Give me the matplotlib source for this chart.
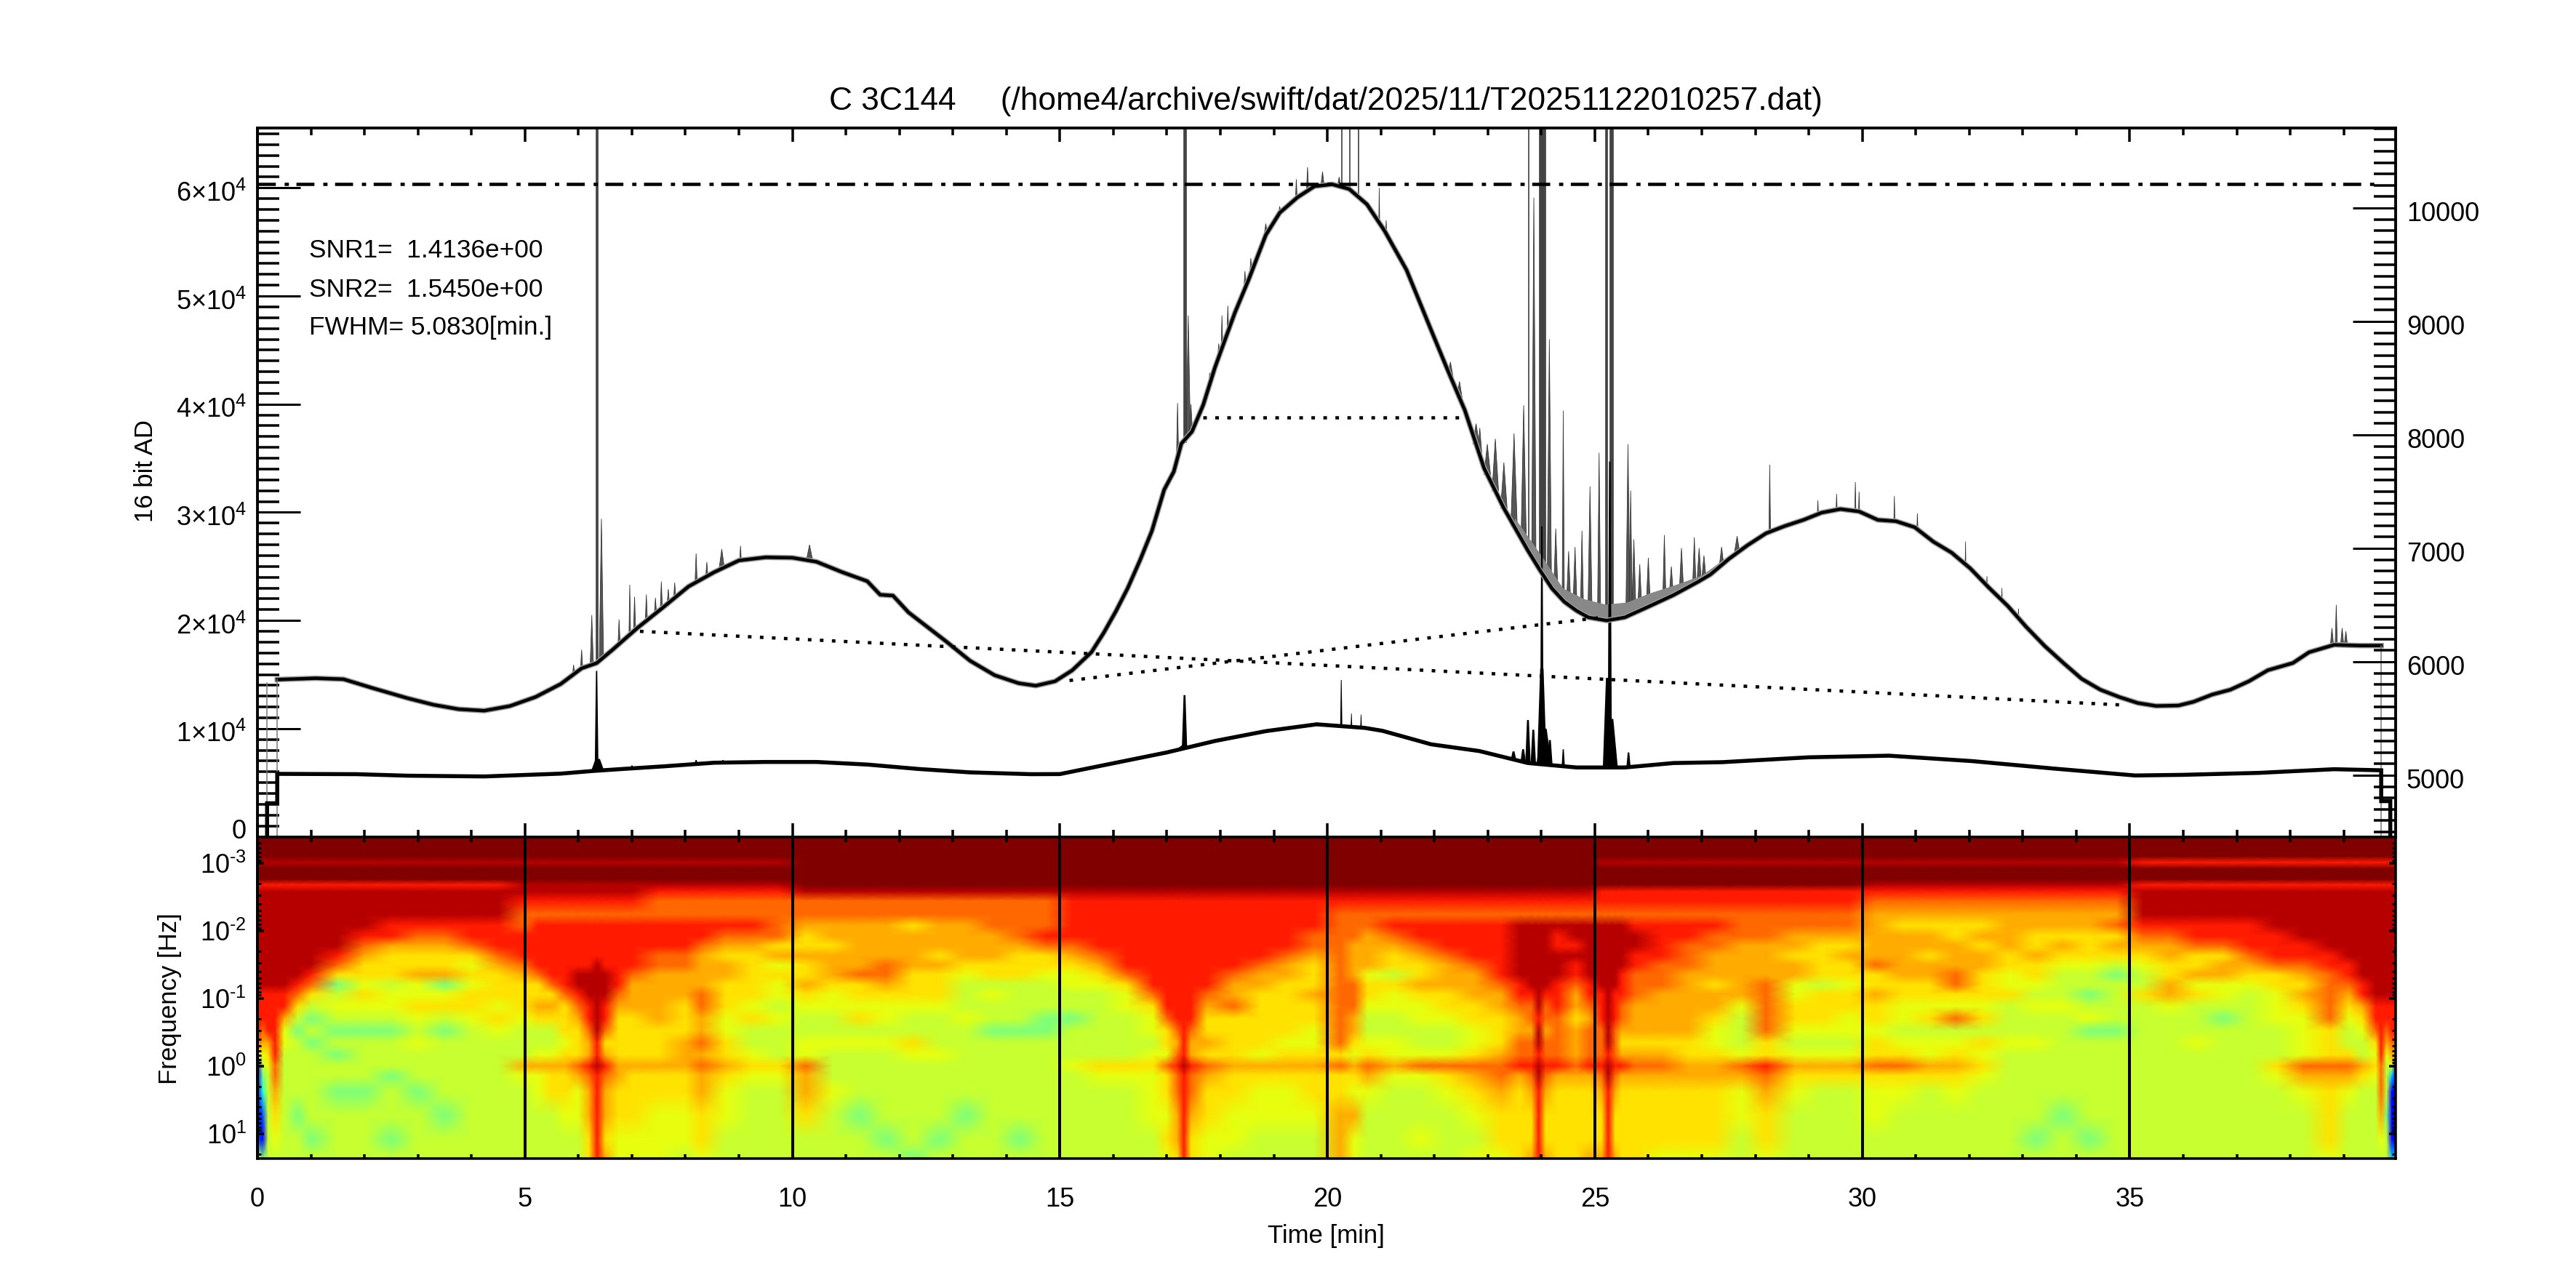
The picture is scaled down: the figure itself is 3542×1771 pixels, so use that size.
import matplotlib
matplotlib.use('Agg')
import matplotlib.pyplot as plt
from matplotlib.ticker import MultipleLocator, FixedLocator, FixedFormatter, NullFormatter
from matplotlib.transforms import ScaledTranslation
import numpy as np

plt.rcParams['font.family'] = ['Liberation Sans', 'DejaVu Sans']
plt.rcParams['mathtext.fontset'] = 'custom'
plt.rcParams['mathtext.rm'] = 'Liberation Sans'
plt.rcParams['mathtext.default'] = 'rm'

W, H, DPI = 3542, 1771, 200
PX = 72 / DPI

title = 'C 3C144     (/home4/archive/swift/dat/2025/11/T20251122010257.dat)'
info_lines = ['SNR1=  1.4136e+00', 'SNR2=  1.5450e+00', 'FWHM= 5.0830[min.]']

# smoothed total power, time [min] / AD counts in units of 1e4
up_t = [0.37, 1.09, 1.61, 2.14, 2.81, 3.29, 3.76, 4.24, 4.72, 5.2, 5.67, 6.06, 6.34, 6.63, 7.1, 7.58, 8.06, 8.54,
        9.0, 9.5, 10, 10.45, 10.93, 11.4, 11.64, 11.88, 12.17, 12.87, 13.32, 13.78, 14.23, 14.55, 14.91, 15.23,
        15.59, 15.82, 16.05, 16.27, 16.5, 16.72, 16.95, 17.13, 17.27, 17.47, 17.68, 17.9, 18.27, 18.53, 18.85,
        19.11, 19.44, 19.76, 20.09, 20.41, 20.74, 21.07, 21.48, 21.94, 22.25, 22.57, 22.93, 23.3, 23.75, 23.98,
        24.2, 24.43, 24.66, 24.88, 25.22, 25.56, 26.02, 26.47, 26.93, 27.16, 27.51, 27.85, 28.2, 28.55, 28.9,
        29.24, 29.59, 29.94, 30.29, 30.63, 30.98, 31.33, 31.67, 32.02, 32.37, 32.72, 33.06, 33.41, 33.76, 34.1,
        34.45, 34.8, 35.15, 35.49, 35.91, 36.19, 36.54, 36.88, 37.23, 37.58, 38.05, 38.35, 38.82, 39.3, 39.7]
up_v = [1.454, 1.466, 1.457, 1.377, 1.281, 1.221, 1.18, 1.166, 1.209, 1.293, 1.413, 1.558, 1.606, 1.726, 1.93, 2.12,
        2.315, 2.447, 2.555, 2.584, 2.58, 2.543, 2.447, 2.363, 2.238, 2.23, 2.075, 1.808, 1.628, 1.494, 1.42,
        1.397, 1.438, 1.539, 1.707, 1.886, 2.088, 2.301, 2.559, 2.828, 3.209, 3.377, 3.635, 3.747, 3.994, 4.341,
        4.844, 5.153, 5.565, 5.77, 5.912, 6.015, 6.033, 5.989, 5.848, 5.603, 5.241, 4.685, 4.314, 3.944, 3.408,
        3.038, 2.646, 2.461, 2.296, 2.173, 2.09, 2.029, 2.0, 2.029, 2.132, 2.235, 2.358, 2.425, 2.571, 2.694,
        2.806, 2.873, 2.93, 2.997, 3.03, 3.008, 2.93, 2.918, 2.862, 2.728, 2.627, 2.481, 2.302, 2.134, 1.943,
        1.764, 1.607, 1.461, 1.36, 1.293, 1.237, 1.21, 1.214, 1.248, 1.315, 1.36, 1.439, 1.54, 1.607, 1.706,
        1.775, 1.768, 1.768]

# upper edge of the dense spiking after 23.5 min
fringe_t = [23.5, 24.0, 24.4, 24.8, 25.2, 25.6, 26.0, 26.5, 27.0, 27.5]
fringe_v = [2.95, 2.6, 2.3, 2.2, 2.15, 2.17, 2.25, 2.33, 2.42, 2.6]

# second channel
low_t = [0.18, 0.18, 0.37, 0.37, 1.85, 2.81, 4.24, 5.67, 6.25, 6.82, 7.58, 8.54, 9.5, 10.45, 11.4, 12.36, 13.31, 14.46,
         15, 16.1, 17, 17.9, 18.85, 19.8, 20.7, 21.03, 21.94, 22.84, 23.75, 24.66, 25.56, 26.47, 27.38, 29, 30.5,
         32.05, 33.6, 35.1, 36.0, 37.41, 38.82, 39.7, 39.7, 39.87, 39.87]
low_v = [0, 0.31, 0.31, 0.582, 0.579, 0.565, 0.558, 0.584, 0.608, 0.627, 0.651, 0.685, 0.692, 0.692, 0.668, 0.627, 0.596,
         0.579, 0.58, 0.69, 0.78, 0.886, 0.977, 1.04, 1.007, 0.98, 0.855, 0.793, 0.682, 0.641, 0.641, 0.682, 0.69,
         0.735, 0.75, 0.70, 0.63, 0.567, 0.573, 0.591, 0.625, 0.615, 0.33, 0.33, 0]

# spikes on the raw trace: time, peak (1e4), half width [min]
spike_t = [5.91, 6.06, 6.25, 6.43, 6.76, 6.96, 7.05, 7.27, 7.44, 7.55, 7.68, 7.8, 8.2, 8.4, 8.68, 9.03, 10.32,
           17.2, 17.4, 17.45, 17.8, 17.97, 18.03, 18.14, 18.46, 18.57, 18.85, 19.11, 19.42, 19.63, 19.91, 20.22,
           20.97, 21.1, 22.3, 22.47, 22.78, 22.85, 22.99, 23.14, 23.3, 23.49, 23.67, 23.86, 24.15, 24.27, 24.41,
           24.51, 24.63, 24.76, 24.91, 25.08, 25.62, 25.67, 25.73, 25.84, 26.0, 26.3, 26.43, 26.62, 26.86, 26.95,
           27.04, 27.37, 27.66, 28.27, 29.17, 29.52, 29.87, 29.94, 30.6, 31.03, 31.93, 32.33, 32.61, 32.92,
           38.78, 38.86, 38.97, 39.04]
spike_v = [1.59, 1.73, 2.05, 2.94, 2.01, 2.33, 2.22, 2.24, 2.21, 2.36, 2.29, 2.35, 2.62, 2.54, 2.66, 2.69, 2.70,
           4.01, 4.82, 4.0, 4.29, 4.56, 4.82, 4.91, 5.23, 5.35, 5.67, 5.83, 6.08, 6.19, 6.15, 6.10,
           6.0, 5.7, 4.39, 4.21, 3.82, 3.78, 3.63, 3.68, 3.46, 3.73, 3.99, 5.91, 4.6, 2.85, 3.94,
           2.64, 2.68, 2.83, 3.24, 3.55, 3.63, 3.2, 2.75, 2.52, 2.58, 2.79, 2.5, 2.67, 2.77, 2.67,
           2.6, 2.68, 2.78, 3.44, 3.11, 3.17, 3.28, 3.19, 3.15, 2.99, 2.73, 2.41, 2.30, 2.11,
           1.93, 2.145, 1.93, 1.9]
spike_w = [0.02, 0.02, 0.03, 0.04, 0.02, 0.015, 0.02, 0.02, 0.02, 0.02, 0.02, 0.02, 0.02, 0.02, 0.05, 0.015, 0.06,
           0.02, 0.04, 0.03, 0.015, 0.02, 0.015, 0.015, 0.02, 0.02, 0.03, 0.02, 0.015, 0.02, 0.03, 0.03,
           0.008, 0.01, 0.05, 0.05, 0.06, 0.04, 0.06, 0.06, 0.06, 0.06, 0.05, 0.04, 0.04, 0.04, 0.02,
           0.04, 0.04, 0.03, 0.04, 0.03, 0.04, 0.03, 0.04, 0.04, 0.04, 0.03, 0.04, 0.04, 0.03, 0.04,
           0.04, 0.04, 0.05, 0.015, 0.01, 0.01, 0.01, 0.01, 0.01, 0.01, 0.006, 0.006, 0.006, 0.006,
           0.03, 0.02, 0.03, 0.03]
# bursts running off the top of the panel: from, to [min]
burst_t0 = [6.315, 17.30, 20.255, 20.405, 20.575, 23.745, 23.96, 25.19, 25.27]
burst_t1 = [6.365, 17.365, 20.265, 20.415, 20.585, 23.76, 24.08, 25.23, 25.34]

# spikes on the second channel
low_spike_t = [6.34, 6.36, 7.0, 8.2, 8.7, 17.33, 17.33, 20.26, 20.45, 20.63, 23.48, 23.66, 23.75, 23.85, 24.01, 24.01,
               24.05, 24.16, 24.41, 25.28, 25.24, 25.3, 25.63]
low_spike_v = [1.534, 0.72, 0.66, 0.71, 0.71, 1.31, 0.85, 1.45, 1.14, 1.13, 0.79, 0.81, 1.08, 0.99, 2.87, 1.555,
               1.0, 0.895, 0.81, 3.47, 1.47, 1.09, 0.78]
low_spike_w = [0.035, 0.12, 0.03, 0.03, 0.03, 0.05, 0.12, 0.02, 0.015, 0.015, 0.05, 0.05, 0.05, 0.05, 0.035, 0.09,
               0.14, 0.05, 0.03, 0.04, 0.09, 0.13, 0.04]

# calibration chords
chord_t = [[7.15, 34.8], [15.18, 25.15], [17.68, 22.47]]
chord_v = [[1.90, 1.22], [1.445, 2.03], [3.874, 3.874]]
peak_level = 6.038

# wavelet panel: log10 frequency of each row, hex power levels
row_log = [-3.39, -3.10, -3.01, -2.92, -2.76, -2.68, -2.58, -2.44, -2.24, -2.08, -1.92, -1.78, -1.63, -1.49,
           -1.35, -1.20, -1.06, -0.88, -0.70, -0.52, -0.34, -0.16, 0.0, 0.14, 0.38, 0.73, 1.09, 1.37]
power_scale = [0, 0.07, 0.13, 0.2, 0.27, 0.33, 0.4, 0.5, 0.59, 0.63, 0.67, 0.73, 0.8, 0.88, 0.95, 1.0]
top_edges = [5, 7.5, 10, 15, 20, 25, 30, 35]
top_rows = ['ffeffdeee', 'ffeffeedc', 'ffeffedcc', 'ffffffecc',
            'ffffffedd', 'ffffffedc', 'ffefffddc', 'ffeffedcb', 'ffdffdeee']
spec_columns = [
    (0.0, 'eeeeeeeddddca222238'),
    (0.1, 'eeeeeeedddcb9876327'),
    (0.2, 'eeeeeeeddddba988888'),
    (0.33, 'eeeeeeeddddddccba98'),
    (0.5, 'eeeeeeeddb998888888'),
    (0.75, 'eeeeeedca8788888788'),
    (1.0, 'eeeeedca87878888878'),
    (1.5, 'eeedca7898787887888'),
    (2.0, 'edcbaa9a98788887888'),
    (2.5, 'ddbaaa8998788878878'),
    (3.0, 'dcbaab99a9898887888'),
    (3.5, 'dcbaab79a8788888788'),
    (4.0, 'ddca9a9aa9888888888'),
    (4.5, 'dddcbaaa9a988888888'),
    (5.0, 'cdddcbaaa9888b98888'),
    (5.25, 'dddddcaaba889b99888'),
    (5.5, 'ddddddcaba889baa888'),
    (5.75, 'dddddddcaaa9abaa988'),
    (6.0, 'dddddeedcbaaacb9988'),
    (6.2, 'dddddeeeddcbbdcbbaa'),
    (6.35, 'ddddeeeeeeeddeddddd'),
    (6.5, 'dddddeeeddcabdcbbab'),
    (6.75, 'dddddddcbaaaabbaa99'),
    (7.0, 'dddddcbbbaaaabaaa99'),
    (7.5, 'dddccbbbbbaaabaa999'),
    (8.0, 'dddccbbbaaabbbaa998'),
    (8.3, 'ddcbbbbccbbcbcbbaa9'),
    (8.75, 'dcbabbaaa99aaba9988'),
    (9.25, 'dcbaaaaa9a889a98888'),
    (9.75, 'ccab9a9989888a98888'),
    (10.25, 'baabaaba98899cbba88'),
    (10.75, 'bbabbba998898889888'),
    (11.25, 'bbbbbcaa9a898888788'),
    (11.75, 'bbbbccba99898888878'),
    (12.25, 'abbbbaaa988a9888887'),
    (12.75, 'bbbabaaa98889888878'),
    (13.25, 'bbbba98889888888788'),
    (13.75, 'cbbbaa8988788888888'),
    (14.25, 'ccbaaa8888788888878'),
    (14.75, 'cdcaa98887788888888'),
    (15.25, 'ddcba99887888988888'),
    (15.75, 'dddcba9888888a98888'),
    (16.25, 'dddddca998888a98888'),
    (16.75, 'dddddddca9989a99988'),
    (17.0, 'dddddddddcaa9caa9a9'),
    (17.2, 'ddddddddddcbcdccbba'),
    (17.32, 'dddddddddddddeddddd'),
    (17.45, 'ddddddddddcbbdccbaa'),
    (17.75, 'dddddddcbaabacbaa99'),
    (18.25, 'dddddcbbcaaaabaa998'),
    (18.75, 'ddddcbbaaaaa9ba9988'),
    (19.25, 'dddcbbaaaaa9aba9988'),
    (19.75, 'dccbaaabaa99abaa988'),
    (20.25, 'ccccccccccccacaabbb'),
    (20.5, 'ccbbbbcccbba9ba9b99'),
    (20.75, 'cbbbb9aa9889acb9888'),
    (21.25, 'dcbaa8a998899b98888'),
    (21.75, 'ddcbaaba99889c98898'),
    (22.25, 'dddcbbbaa9889ca9888'),
    (22.75, 'ddddcbbbaa99acba989'),
    (23.25, 'ddddddcbbaaabccbaa9'),
    (23.6, 'eeeeeeddcbbccdbaaaa'),
    (23.82, 'eeeeeeedccbccdcbaab'),
    (23.95, 'eeeeeeeeedeedeedddd'),
    (24.08, 'eeeeeeedccbccdcbaab'),
    (24.3, 'eddeeedddccccdbaaaa'),
    (24.65, 'eededdcbbabbbcbaaaa'),
    (24.9, 'eeeeeeddcbcccdbaaab'),
    (25.13, 'eeeeeeedddcccdcbaab'),
    (25.25, 'eeeeeeeeeeeedeedddd'),
    (25.38, 'eeeeeeedddcccdcbaab'),
    (25.5, 'eeeeedddccbabdbaaaa'),
    (25.75, 'deeddcccbbbabcbaaaa'),
    (26.25, 'ddddcccbbbbabcbaaa9'),
    (26.75, 'ddcccbbbbbbaabbaaa9'),
    (27.25, 'dccbbbabba99abbaaa9'),
    (27.75, 'ccbbbbbb98889cb9988'),
    (28.2, 'ccbbbbcccccaadcbaa9'),
    (28.75, 'cbbabb99aa989ba9888'),
    (29.25, 'cbaaaa8aaa989ba8888'),
    (29.75, 'cbabaa9aa9989ba8888'),
    (30.25, 'bbbbcaabaa9aaca9988'),
    (30.75, 'abbbbbaa9989aca9888'),
    (31.25, 'abbabbaa9a899ba8888'),
    (31.75, 'aabbbcca9c89aba9888'),
    (32.25, 'ababbaaa9a8a9a98888'),
    (32.75, 'bbbaa99a88898888888'),
    (33.25, 'baabaa9898898888878'),
    (33.75, 'baba988898888888788'),
    (34.25, 'baaa988789788888878'),
    (34.75, 'caba878888788888888'),
    (35.25, 'dcba988a88888888888'),
    (35.75, 'dcbbaabb98888888888'),
    (36.25, 'ddcaab9a88898888888'),
    (36.75, 'ddcabb9987888888888'),
    (37.25, 'dddcba9888888888888'),
    (37.75, 'edddcaa999888a98888'),
    (38.25, 'eeddcbaba9999cb9888'),
    (38.75, 'eeeddcccccaaacbaaa9'),
    (39.1, 'eeeeddcba988acb9888'),
    (39.35, 'eeeeeeddba988ba8888'),
    (39.6, 'eeeeeeeeddca9a98888'),
    (39.7, 'eeeeeeeedddddcccb98'),
    (39.8, 'eeeeeeeeddcb9888788'),
    (39.9, 'eeeeeeeedddcb952225'),
    (39.97, 'eeeeeeeedddca222225'),
]

xlim = (0, 39.97)
fig = plt.figure(figsize=(W / DPI, H / DPI), dpi=DPI)


def axes_px(x0, y0, x1, y1):
    return fig.add_axes([x0 / W, 1 - y1 / H, (x1 - x0) / W, (y1 - y0) / H])


def shift_labels(labels, dy_px):
    off = ScaledTranslation(0, -dy_px / DPI, fig.dpi_scale_trans)
    for lab in labels:
        lab.set_transform(lab.get_transform() + off)


ax = axes_px(354, 176, 3294, 1150.6)
ax2 = ax.twinx()
spec = axes_px(354, 1150.6, 3294, 1593)
ax.set_zorder(1)
ax2.set_zorder(2)
spec.set_zorder(3)
ax2.patch.set_visible(False)

up_t_a = np.array(up_t)
up_v_a = np.array(up_v) * 1e4

# spikes first, so the smooth trace sits on top
for t, v, w in zip(spike_t, spike_v, spike_w):
    base = np.interp(t, up_t_a, up_v_a)
    ax.fill([t - w, t, t + w], [base, v * 1e4, base], fc='#555555', ec='#333333', lw=0.8 * PX)
for t0, t1 in zip(burst_t0, burst_t1):
    base = np.interp(t0, up_t_a, up_v_a)
    ax.fill([t0, t0, t1, t1], [base, 7e4, 7e4, base], fc='#444444', ec='#333333', lw=0.6 * PX)
ax.fill_between(fringe_t, np.interp(fringe_t, up_t_a, up_v_a), np.array(fringe_v) * 1e4, color='#888888', lw=0)

ax.plot(up_t_a, up_v_a, color='#999999', lw=7.5 * PX, solid_joinstyle='round')
ax.plot(up_t_a, up_v_a, color='black', lw=4.5 * PX, solid_joinstyle='round')
ax.plot([up_t[0], up_t[0]], [0, up_v_a[0]], color='#777777', lw=1.5 * PX)
ax.plot([0.18, 0.18], [0, up_v_a[0] - 300], color='#777777', lw=1.5 * PX)
ax.plot([up_t[-1], up_t[-1]], [0, up_v_a[-1]], color='#777777', lw=1.5 * PX)

ax.plot(low_t, np.array(low_v) * 1e4, color='black', lw=5.5 * PX, solid_joinstyle='miter')
for t, v, w in zip(low_spike_t, low_spike_v, low_spike_w):
    base = np.interp(t, low_t[3:-4], np.array(low_v[3:-4]) * 1e4)
    ax.fill([t - w, t - w * 0.35, t + w * 0.35, t + w], [base, v * 1e4, v * 1e4, base], color='black', lw=0)

for t_pair, v_pair in zip(chord_t, chord_v):
    ax.plot(t_pair, np.array(v_pair) * 1e4, color='black', lw=4.5 * PX, dashes=(1.1, 2.57))
ax.plot([0, 39.7], [peak_level * 1e4] * 2, color='black', lw=4.5 * PX, dashes=(5.5, 2.7, 1.3, 2.3))

ax.set_xlim(*xlim)
ax.set_ylim(0, 65535)
ax2.set_ylim(4458, 10705)

ax.xaxis.set_major_locator(MultipleLocator(5))
ax.xaxis.set_minor_locator(MultipleLocator(1))
ax.yaxis.set_minor_locator(MultipleLocator(1e3))
ax.yaxis.set_major_locator(FixedLocator([i * 1e4 for i in range(7)]))
ax.yaxis.set_major_formatter(FixedFormatter(['0'] + ['$\\text{%d×10}^{4}$' % i for i in range(1, 7)]))
ax.xaxis.set_major_formatter(NullFormatter())
ax.tick_params(axis='x', which='major', direction='in', top=True, bottom=True, length=19 * PX, width=3.5 * PX)
ax.tick_params(axis='x', which='minor', direction='in', top=True, bottom=True, length=10 * PX, width=3.5 * PX)
ax.tick_params(axis='y', which='major', direction='in', right=False, length=59 * PX, width=3 * PX, labelsize=13, pad=5.4)
ax.tick_params(axis='y', which='minor', direction='in', right=False, length=30 * PX, width=3.5 * PX)

ax2.yaxis.set_major_locator(MultipleLocator(1000))
ax2.yaxis.set_minor_locator(MultipleLocator(100))
ax2.tick_params(axis='y', which='major', direction='in', length=59 * PX, width=3 * PX, labelsize=13, pad=5.4)
ax2.tick_params(axis='y', which='minor', direction='in', length=30 * PX, width=3.5 * PX)

# wavelet panel
col_t = [c[0] for c in spec_columns]
Z = np.zeros((len(row_log), len(col_t)))
for j, (t, low) in enumerate(spec_columns):
    col = top_rows[int(np.searchsorted(top_edges, t, side='right'))] + low
    Z[:, j] = [power_scale[int(ch, 16)] for ch in col]
spec.pcolormesh(col_t, 10.0 ** np.array(row_log), Z, shading='gouraud', cmap='jet', vmin=0, vmax=1)
spec.set_yscale('log')
spec.set_xlim(*xlim)
spec.set_ylim(10 ** 1.37, 10 ** -3.39)
spec.xaxis.set_major_locator(MultipleLocator(5))
spec.xaxis.set_minor_locator(MultipleLocator(1))
spec.set_yticks([1e-3, 1e-2, 1e-1, 1, 10])
spec.set_yticklabels(['$10^{\\text{-}3}$', '$10^{\\text{-}2}$', '$10^{\\text{-}1}$', '$10^{0}$', '$10^{1}$'])
spec.tick_params(axis='x', which='major', direction='in', top=False, length=443 * PX, width=4 * PX, labelsize=13, pad=14)
spec.tick_params(axis='x', which='minor', direction='in', top=True, bottom=True, length=6.5 * PX, width=3.5 * PX)
spec.tick_params(axis='y', which='major', direction='in', left=True, right=True, length=9 * PX, width=3.5 * PX, labelsize=13, pad=5.4)
spec.tick_params(axis='y', which='minor', direction='in', left=True, right=True, length=5 * PX, width=3 * PX)

for a in (ax, ax2, spec):
    for s in a.spines.values():
        s.set_linewidth(3.5 * PX)

left_labels = ax.get_yticklabels()
shift_labels(left_labels[1:], 4.5)
shift_labels(left_labels[:1], -11)
shift_labels(ax2.get_yticklabels(), 4.5)

fig.text(1823 / W, 1 - 140 / H, title, ha='center', va='center', fontsize=15.95)
fig.text(1823 / W, 1 - 1699 / H, 'Time [min]', ha='center', va='center', fontsize=12.5)
fig.text(201 / W, 1 - 648 / H, '16 bit AD', rotation=90, ha='center', va='center', fontsize=12.5)
fig.text(233 / W, 1 - 1373 / H, 'Frequency [Hz]', rotation=90, ha='center', va='center', fontsize=12.5)
for line, y_px in zip(info_lines, [345, 399, 451]):
    fig.text(425 / W, 1 - y_px / H, line, ha='left', va='center', fontsize=12.7, zorder=10)

fig.savefig('out.png', dpi=DPI)
